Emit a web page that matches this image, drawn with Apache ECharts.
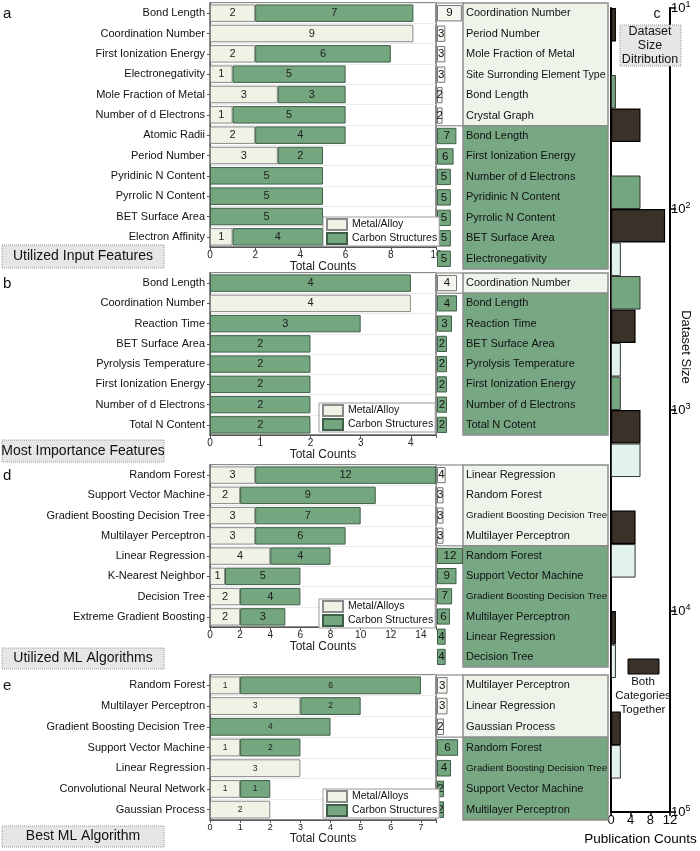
<!DOCTYPE html>
<html><head><meta charset="utf-8">
<script src="https://cdn.jsdelivr.net/npm/echarts@6.0.0/dist/echarts.min.js"></script>
<style>html,body{margin:0;padding:0;background:#fff}#c{width:700px;height:851px}</style>
</head><body><div id="c"></div>
<script>
// ---------------- DATA ----------------
// Panel a: Utilized Input Features
const featuresA = ['Bond Length','Coordination Number','First Ionization Energy','Electronegativity','Mole Fraction of Metal','Number of d Electrons','Atomic Radii','Period Number','Pyridinic N Content','Pyrrolic N Content','BET Surface Area','Electron Affinity'];
const metalA  = [2,9,2,1,3,1,2,3,0,0,0,1];
const carbonA = [7,0,6,5,3,5,4,2,5,5,5,4];
const tblMetalNamesA  = ['Coordination Number','Period Number','Mole Fraction of Metal','Site Surronding Element Type','Bond Length','Crystal Graph'];
const tblMetalA       = [9,3,3,3,2,2];
const tblCarbonNamesA = ['Bond Length','First Ionization Energy','Number of d Electrons','Pyridinic N Content','Pyrrolic N Content','BET Surface Area','Electronegativity'];
const tblCarbonA      = [7,6,5,5,5,5,5];

// Panel b: Most Importance Features
const featuresB = ['Bond Length','Coordination Number','Reaction Time','BET Surface Area','Pyrolysis Temperature','First Ionization Energy','Number of d Electrons','Total N Content'];
const metalB  = [0,4,0,0,0,0,0,0];
const carbonB = [4,0,3,2,2,2,2,2];
const tblMetalNamesB  = ['Coordination Number'];
const tblMetalB       = [4];
const tblCarbonNamesB = ['Bond Length','Reaction Time','BET Surface Area','Pyrolysis Temperature','First Ionization Energy','Number of d Electrons','Total N Cotent'];
const tblCarbonB      = [4,3,2,2,2,2,2];

// Panel d: Utilized ML Algorithms
const algosD = ['Random Forest','Support Vector Machine','Gradient Boosting Decision Tree','Multilayer Perceptron','Linear Regression','K-Nearest Neighbor','Decision Tree','Extreme Gradient Boosting'];
const metalD  = [3,2,3,3,4,1,2,2];
const carbonD = [12,9,7,6,4,5,4,3];
const tblMetalNamesD  = ['Linear Regression','Random Forest','Gradient Boosting Decision Tree','Multilayer Perceptron'];
const tblMetalD       = [4,3,3,3];
const tblCarbonNamesD = ['Random Forest','Support Vector Machine','Gradient Boosting Decision Tree','Multilayer Perceptron','Linear Regression','Decision Tree'];
const tblCarbonD      = [12,9,7,6,4,4];

// Panel e: Best ML Algorithm
const algosE = ['Random Forest','Multilayer Perceptron','Gradient Boosting Decision Tree','Support Vector Machine','Linear Regression','Convolutional Neural Network','Gaussian Process'];
const metalE  = [1,3,0,1,3,1,2];
const carbonE = [6,2,4,2,0,1,0];
const tblMetalNamesE  = ['Multilayer Perceptron','Linear Regression','Gaussian Process'];
const tblMetalE       = [3,3,2];
const tblCarbonNamesE = ['Random Forest','Gradient Boosting Decision Tree','Support Vector Machine','Multilayer Perceptron'];
const tblCarbonE      = [6,4,2,2];

// Panel c: dataset size distribution (half-decade groups from 10 to 10^5)
const cGroups   = ['10-10^1.5','10^1.5-10^2','10^2-10^2.5','10^2.5-10^3','10^3-10^3.5','10^3.5-10^4','10^4-10^4.5','10^4.5-10^5'];
const cBoth     = [1,6,11,5,6,5,1,2];
const cMetal    = ['-','-',2,2,6,5,1,2];
const cCarbon   = [1,6,6,2,'-','-','-','-'];
const cTicks    = [10,100,1000,10000,100000];

// ---------------- STYLE / LAYOUT ----------------
const FONT = '"Liberation Sans", Arial, Helvetica, sans-serif';
const COL = {light:'#eef3e6', lightB:'#8a8a8a', green:'#74a67f', greenB:'#3f5e47',
  dark:'#3a3129', mint:'#e3f4ec', tblLight:'#eff4ea', tblGreen:'#77a883', frame:'#666'};

const grids=[], xAxis=[], yAxis=[], series=[], legend=[], elements=[];

function rect(x,y,w,h,fill,stroke,lw,z,dash){
  return {type:'rect', silent:true, z:z||0, shape:{x:x,y:y,width:w,height:h},
    style:{fill:fill||'none', stroke:stroke||'none', lineWidth:lw||1, lineDash:dash||null}};
}
function text(x,y,s,size,align,opts){
  opts = opts||{};
  return Object.assign({type:'text', silent:true, z:30, x:x, y:y,
    style:{text:s, font:(opts.weight||'normal')+' '+size+'px '+FONT, fill:opts.fill||'#111',
      textAlign:align||'left', textVerticalAlign:'middle', align:align||'left', verticalAlign:'middle'}}, opts.el||{});
}
function hline(x1,x2,y,color,w){
  return {type:'line', silent:true, z:12, shape:{x1:x1,y1:y,x2:x2,y2:y}, style:{stroke:color, lineWidth:w||1}};
}

function panel(p){
  const L=210, W=226, MID=437, MW=26, TL=463, TW=145;
  // ---- left stacked bars
  let g = grids.length;
  grids.push({left:L, top:p.top, width:W, height:p.hL, show:true, borderColor:COL.frame, borderWidth:1.5, backgroundColor:'rgba(0,0,0,0)'});
  let xi = xAxis.length, yi = yAxis.length;
  xAxis.push({gridIndex:g, type:'value', min:0, max:p.xMax, interval:p.interval,
    axisLine:{show:true, lineStyle:{color:'#555'}}, axisTick:{show:true, length:3, lineStyle:{color:'#555'}},
    axisLabel:{fontSize:p.tickFs, color:'#222', margin:3, fontFamily:FONT, showMaxLabel:true,
      formatter:v => (Math.abs(v/p.interval - Math.round(v/p.interval))<1e-9 && v<=p.labelMax) ? String(v) : ''},
    splitLine:{show:false}, name:'Total Counts', nameLocation:'middle', nameGap:p.nameGap,
    nameTextStyle:{fontSize:12, color:'#222', fontFamily:FONT}});
  yAxis.push({gridIndex:g, type:'category', inverse:true, data:p.cats,
    axisLine:{show:true, lineStyle:{color:'#555'}}, axisTick:{show:true, length:3, alignWithLabel:true, lineStyle:{color:'#555'}},
    axisLabel:{fontSize:11, color:'#111', margin:5, fontFamily:FONT, interval:0},
    splitLine:{show:true, lineStyle:{color:'#ebebeb'}}});
  const lab = {show:true, position:'inside', fontSize:p.valFs, color:'#222', fontFamily:FONT, formatter:q=>q.value>0?q.value:''};
  series.push({type:'bar', name:p.metalName, xAxisIndex:xi, yAxisIndex:yi, stack:'s'+g, barCategoryGap:'14%',
    data:p.metal.map(v=>v>0?v:'-'), itemStyle:{color:COL.light, borderColor:COL.lightB, borderWidth:1}, label:lab});
  series.push({type:'bar', name:'Carbon Structures', xAxisIndex:xi, yAxisIndex:yi, stack:'s'+g, barCategoryGap:'14%',
    data:p.carbon.map(v=>v>0?v:'-'), itemStyle:{color:COL.green, borderColor:COL.greenB, borderWidth:1}, label:lab});
  legend.push({orient:'vertical', left:p.leg[0], top:p.leg[1], data:[p.metalName,'Carbon Structures'], icon:'rect',
    itemWidth:20, itemHeight:11, itemGap:1, itemTextGap:4, padding:[1,2,1,3], borderColor:'#9a9a9a', borderWidth:1, backgroundColor:'#fff',
    selectedMode:false, z:20, textStyle:{fontSize:10.5, lineHeight:12, fontFamily:FONT, color:'#111'}});

  // ---- middle small bars
  const n = p.tMetal.length + p.tCarbon.length;
  const rows = Array.from({length:n},(_,i)=>'r'+i);
  g = grids.length; xi = xAxis.length; yi = yAxis.length;
  grids.push({left:MID, top:p.top, width:MW, height:p.hM});
  xAxis.push({gridIndex:g, type:'value', min:0, max:p.midMax, show:false});
  yAxis.push({gridIndex:g, type:'category', inverse:true, data:rows, show:false});
  const midMetal  = p.tMetal.concat(p.tCarbon.map(()=>'-'));
  const midCarbon = p.tMetal.map(()=>'-').concat(p.tCarbon);
  const mlab = {show:true, position:'inside', fontSize:11.5, color:'#111', fontFamily:FONT};
  series.push({type:'bar', name:'mid-metal-'+p.key, xAxisIndex:xi, yAxisIndex:yi, z:10, barGap:'-100%', barCategoryGap:'20%',
    data:midMetal, itemStyle:{color:'#f4f7ef', borderColor:'#777', borderWidth:1}, label:mlab});
  series.push({type:'bar', name:'mid-carbon-'+p.key, xAxisIndex:xi, yAxisIndex:yi, z:10, barGap:'-100%', barCategoryGap:'20%',
    data:midCarbon, itemStyle:{color:COL.green, borderColor:COL.greenB, borderWidth:1}, label:mlab});

  // ---- label table
  const names = p.tMetalNames.concat(p.tCarbonNames);
  g = grids.length; xi = xAxis.length; yi = yAxis.length;
  grids.push({left:TL, top:p.top, width:TW, height:p.hM});
  xAxis.push({gridIndex:g, type:'value', min:0, max:1, show:false});
  yAxis.push({gridIndex:g, type:'category', inverse:true, data:rows, z:10,
    axisLine:{show:false}, axisTick:{show:false}, splitLine:{show:false},
    axisLabel:{inside:true, margin:3, interval:0, color:'#111',
      formatter:(v,i)=>{const s=names[i]; return s.length>28?'{s|'+s+'}':(s.length>25?'{m|'+s+'}':'{n|'+s+'}');},
      rich:{n:{fontSize:11, fontFamily:FONT, color:'#111'}, m:{fontSize:10.5, fontFamily:FONT, color:'#111'},
            s:{fontSize:9.8, fontFamily:FONT, color:'#111'}}}});
  const rowH = p.hM/n;
  const y0 = p.top, yS = p.top + rowH*p.tMetal.length, y1 = p.top + p.hM;
  elements.push(rect(TL, y0, TW, yS-y0, COL.tblLight, '#8c8c8c', 1.5, 1));
  elements.push(rect(TL, yS, TW, y1-yS, COL.tblGreen, '#8c8c8c', 1.5, 1));
  elements.push(hline(MID, TL, y0, '#8c8c8c', 1.2));
  elements.push(hline(MID, TL, yS, '#8c8c8c', 1.2));

  // ---- panel letter & title box
  elements.push(text(3, p.top+11, p.key, 15, 'left'));
  elements.push(rect(2, p.box[0], 162, p.box[1], '#e6e6e6', '#9a9a9a', 1, 25, [1,1]));
  elements.push(text(83, p.box[0]+p.box[1]/2, p.title, 14, 'center'));
}

panel({key:'a', top:3, hL:244, hM:266, cats:featuresA, metal:metalA, carbon:carbonA, metalName:'Metal/Alloy',
  xMax:10, interval:2, labelMax:10, tickFs:10, valFs:11, nameGap:11, midMax:9.4, leg:[323,217],
  tMetalNames:tblMetalNamesA, tMetal:tblMetalA, tCarbonNames:tblCarbonNamesA, tCarbon:tblCarbonA,
  box:[245,23], title:'Utilized Input Features'});
panel({key:'b', top:273, hL:162, hM:162, cats:featuresB, metal:metalB, carbon:carbonB, metalName:'Metal/Alloy',
  xMax:4.5, interval:1, labelMax:4, tickFs:10, valFs:11, nameGap:14, midMax:5.2, leg:[319,403],
  tMetalNames:tblMetalNamesB, tMetal:tblMetalB, tCarbonNames:tblCarbonNamesB, tCarbon:tblCarbonB,
  box:[440,22], title:'Most Importance Features'});
panel({key:'d', top:465, hL:162, hM:202, cats:algosD, metal:metalD, carbon:carbonD, metalName:'Metal/Alloys',
  xMax:15, interval:2, labelMax:14, tickFs:10, valFs:11, nameGap:13, midMax:12, leg:[319,599],
  tMetalNames:tblMetalNamesD, tMetal:tblMetalD, tCarbonNames:tblCarbonNamesD, tCarbon:tblCarbonD,
  box:[648,21], title:'Utilized ML Algorithms'});
panel({key:'e', top:675, hL:145, hM:145, cats:algosE, metal:metalE, carbon:carbonE, metalName:'Metal/Alloys',
  xMax:7.5, interval:1, labelMax:7, tickFs:9, valFs:8.5, nameGap:13, midMax:7.4, leg:[323,789],
  tMetalNames:tblMetalNamesE, tMetal:tblMetalE, tCarbonNames:tblCarbonNamesE, tCarbon:tblCarbonE,
  box:[826,21], title:'Best ML Algorithm'});

// ---- panel c
(function(){
  const g = grids.length, xi = xAxis.length, yi = yAxis.length;
  grids.push({left:611, top:3, width:59, height:817});
  xAxis.push({gridIndex:g, type:'value', min:0, max:12, interval:4,
    axisLine:{show:true, lineStyle:{color:'#000', width:2}}, axisTick:{show:true, length:4, lineStyle:{color:'#000', width:1.5}},
    axisLabel:{fontSize:13, color:'#000', margin:2, fontFamily:FONT}, splitLine:{show:false},
    name:'Publication Counts', nameLocation:'middle', nameGap:16, nameTextStyle:{fontSize:13.5, color:'#000', fontFamily:FONT}});
  yAxis.push({gridIndex:g, type:'category', inverse:true, data:cGroups,
    axisLine:{show:true, lineStyle:{color:'#000', width:2}}, axisTick:{show:false}, axisLabel:{show:false}, splitLine:{show:false}});
  yAxis.push({gridIndex:g, type:'log', logBase:10, min:cTicks[0], max:cTicks[cTicks.length-1], inverse:true, position:'right',
    axisLine:{show:true, onZero:false, lineStyle:{color:'#000', width:2}},
    axisTick:{show:true, length:6, lineStyle:{color:'#000', width:1.5}}, minorTick:{show:false}, splitLine:{show:false},
    axisLabel:{margin:1, formatter:v=>'{b|10}{s|'+Math.round(Math.log10(v))+'}',
      rich:{b:{fontSize:13, fontFamily:FONT, color:'#000', lineHeight:16}, s:{fontSize:9, fontFamily:FONT, color:'#000', verticalAlign:'top', lineHeight:9}}}});
  const common = {type:'bar', xAxisIndex:xi, yAxisIndex:yi, barGap:'0%', barCategoryGap:'0%'};
  series.push(Object.assign({name:'Both Categories Together', data:cBoth, itemStyle:{color:COL.dark, borderColor:'#000', borderWidth:1.2}}, common));
  series.push(Object.assign({name:'Metal/Alloy datasets', data:cMetal, itemStyle:{color:COL.mint, borderColor:'#333', borderWidth:1}}, common));
  series.push(Object.assign({name:'Carbon Structure datasets', data:cCarbon, itemStyle:{color:COL.green, borderColor:'#333', borderWidth:1}}, common));

  elements.push(text(657, 14, 'c', 14, 'center'));
  elements.push(rect(620, 25, 61, 41, '#e6e6e6', '#9a9a9a', 1, 25, [1,1]));
  elements.push(text(650, 32, 'Dataset', 12.5, 'center'));
  elements.push(text(650, 46, 'Size', 12.5, 'center'));
  elements.push(text(650, 60, 'Ditribution', 12.5, 'center'));
  elements.push(rect(628, 659, 31, 15, COL.dark, '#000', 1, 25));
  elements.push(text(643, 682, 'Both', 11.5, 'center'));
  elements.push(text(643, 696, 'Categories', 11.5, 'center'));
  elements.push(text(643, 710, 'Together', 11.5, 'center'));
  elements.push(text(686, 347, 'Dataset Size', 13, 'center', {el:{rotation:-Math.PI/2}}));
})();

const chart = echarts.init(document.getElementById('c'), null, {renderer:'canvas', width:700, height:851});
chart.setOption({
  animation:false,
  backgroundColor:'#fff',
  textStyle:{fontFamily:FONT},
  grid:grids, xAxis:xAxis, yAxis:yAxis, series:series, legend:legend,
  graphic:{elements:elements}
});
</script></body></html>
